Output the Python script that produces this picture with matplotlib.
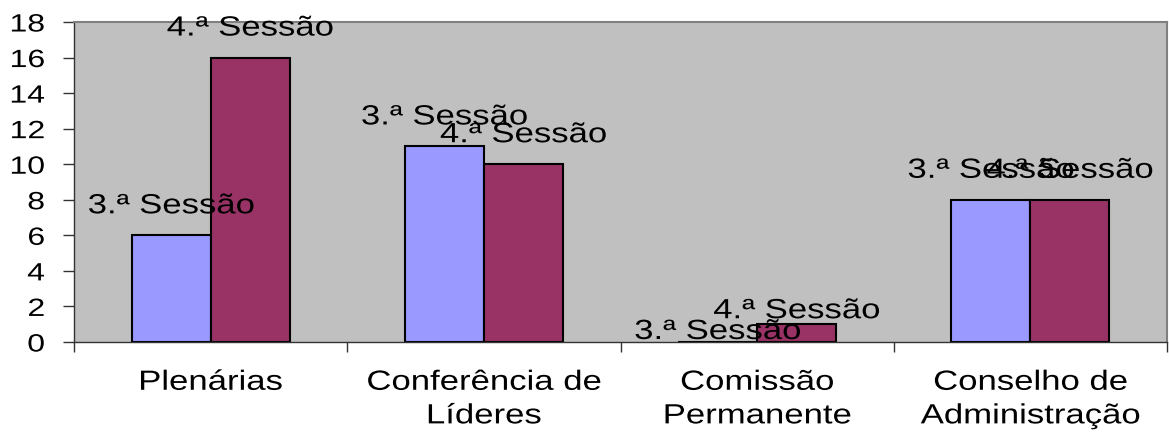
import matplotlib
matplotlib.use('Agg')
import numpy as np
import matplotlib.pyplot as plt
import matplotlib.patheffects as pe
from matplotlib.transforms import Affine2D

# Data
categories = ['Plenárias', 'Conferência de\nLíderes', 'Comissão\nPermanente', 'Conselho de\nAdministração']
series_names = ['3.ª Sessão', '4.ª Sessão']
sessao_3 = [6, 11, 0, 8]
sessao_4 = [16, 10, 1, 8]
y_ticks = [0, 2, 4, 6, 8, 10, 12, 14, 16, 18]

# layout / style
colors = ['#9999FF', '#993366']
bar_w = 0.289
label_gap = [[22, 22, 3, 22], [22, 22, 6, 22]]  # px between bar top and label baseline


class Stretch(pe.AbstractPathEffect):
    """Widen text horizontally, like the stretched Excel picture."""
    def __init__(self, sx, anchor='center'):
        super().__init__()
        self.sx = sx
        self.anchor = anchor

    def draw_path(self, renderer, gc, tpath, affine, rgbFace=None):
        ext = tpath.get_extents()
        x0 = ext.x1 if self.anchor == 'right' else (ext.x0 + ext.x1) / 2
        tr = Affine2D().translate(-x0, 0).scale(self.sx, 1).translate(x0, 0) + affine
        renderer.draw_path(gc, tpath, tr, rgbFace)


plt.rcParams['font.family'] = ['Liberation Sans', 'DejaVu Sans']

fig = plt.figure(figsize=(11.69, 4.32), dpi=100)
ax = fig.add_axes([74 / 1169, 1 - 342 / 432, (1167 - 74) / 1169, 320 / 432])
ax.set_facecolor('#C0C0C0')

x = np.arange(len(categories))
for i, (vals, name, c) in enumerate(zip([sessao_3, sessao_4], series_names, colors)):
    bars = ax.bar(x + (i - 0.5) * bar_w, vals, bar_w, color=c, edgecolor='black', linewidth=1.5, zorder=2)
    for j, b in enumerate(bars):
        t = ax.annotate(name, (b.get_x() + b.get_width() / 2, b.get_height()),
                        xytext=(0, label_gap[i][j]), textcoords='offset pixels',
                        ha='center', va='baseline', fontsize=20, annotation_clip=False, zorder=3)
        t.set_path_effects([Stretch(1.25)])

ax.set_xlim(-0.5, len(categories) - 0.5)
ax.set_ylim(0, 18)
ax.set_yticks(y_ticks)

# category boundaries get the tick marks, centres get the labels
ax.set_xticks(np.arange(-0.5, len(categories), 1))
ax.set_xticklabels([])
ax.set_xticks(x, minor=True)
ax.set_xticklabels(categories, minor=True, linespacing=1.38)
ax.tick_params(axis='x', which='major', length=7, width=1, direction='out', color='#333333')
ax.tick_params(axis='x', which='minor', length=0, pad=20, labelsize=20)
ax.tick_params(axis='y', length=8, width=1, direction='out', color='#333333', pad=13, labelsize=18)

for lbl in ax.get_xticklabels(minor=True):
    lbl.set_path_effects([Stretch(1.25)])
for lbl in ax.get_yticklabels():
    lbl.set_path_effects([Stretch(1.28, anchor='right')])

for s in ['top', 'right']:
    ax.spines[s].set_color('#808080')
    ax.spines[s].set_linewidth(1.5)
for s in ['left', 'bottom']:
    ax.spines[s].set_color('#333333')
    ax.spines[s].set_linewidth(1)

fig.savefig('out.png', dpi=100)
